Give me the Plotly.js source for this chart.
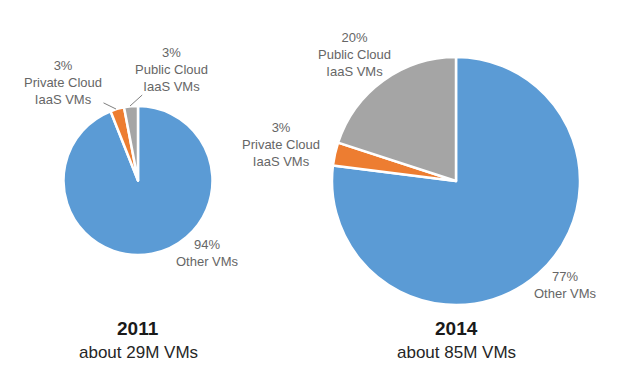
<!DOCTYPE html>
<html>
<head>
<meta charset="utf-8">
<script src="https://cdn.plot.ly/plotly-3.0.1.min.js"></script>
<style>html,body{margin:0;padding:0;background:#fff;}#chart{width:620px;height:383px;}</style>
</head>
<body>
<div id="chart"></div>
<script>
// ---- data ----
const categories = ["Other VMs", "Private Cloud IaaS VMs", "Public Cloud IaaS VMs"];
const labelText = ["Other VMs", "Private Cloud<br>IaaS VMs", "Public Cloud<br>IaaS VMs"];
const years = ["2011", "2014"];
const totals = ["about 29M VMs", "about 85M VMs"];
const shares2011 = [94, 3, 3];
const shares2014 = [77, 3, 20];
const colors = ["#5B9BD5", "#ED7D31", "#A5A5A5"];

// ---- layout helpers (pixel -> paper) ----
const W = 620, H = 383;
const px = x => x / W;
const py = y => 1 - y / H;

function pieTrace(values, x0, x1, y0, y1) {
  return {
    type: "pie", values: values, labels: categories, sort: false,
    direction: "clockwise", rotation: 0, textinfo: "none", hoverinfo: "skip",
    marker: {colors: colors, line: {color: "#ffffff", width: 2.5}},
    domain: {x: [px(x0), px(x1)], y: [py(y1), py(y0)]},
    showlegend: false
  };
}

const data = [
  pieTrace(shares2011, 63, 213, 106, 255),
  pieTrace(shares2014, 332, 580, 57, 305)
];

const lblFont = {family: "Liberation Sans, Arial, sans-serif", size: 13, color: "#666666"};
function lbl(text, x, y, tipX, tipY) {
  const a = {text: text, xref: "paper", yref: "paper", font: lblFont, align: "center",
    xanchor: "center", yanchor: "middle"};
  if (tipX !== undefined) {
    a.x = px(tipX); a.y = py(tipY); a.showarrow = true; a.arrowhead = 0;
    a.arrowwidth = 1; a.arrowcolor = "#7f7f7f"; a.ax = x - tipX; a.ay = y - tipY;
    a.standoff = 0;
  } else {
    a.x = px(x); a.y = py(y); a.showarrow = false;
  }
  return a;
}
function title(text, x, y, size, color) {
  return {text: text, x: px(x), y: py(y), xref: "paper", yref: "paper", showarrow: false,
    xanchor: "center", yanchor: "middle",
    font: {family: "Liberation Sans, Arial, sans-serif", size: size, color: color}};
}

const annotations = [
  lbl(shares2011[1] + "%<br>" + labelText[1], 63, 83, 116, 109),
  lbl(shares2011[2] + "%<br>" + labelText[2], 171, 69, 130, 106),
  lbl(shares2011[0] + "%<br>" + labelText[0], 207, 253),
  lbl(shares2014[1] + "%<br>" + labelText[1], 281, 144),
  lbl(shares2014[2] + "%<br>" + labelText[2], 354, 54),
  lbl(shares2014[0] + "%<br>" + labelText[0], 565, 285),
  title("<b>" + years[0] + "</b>", 138, 328, 19, "#1a1a1a"),
  title(totals[0], 138, 352, 17, "#262626"),
  title("<b>" + years[1] + "</b>", 456, 328, 19, "#1a1a1a"),
  title(totals[1], 456, 352, 17, "#262626")
];

const layout = {
  width: W, height: H, margin: {l: 0, r: 0, t: 0, b: 0},
  paper_bgcolor: "#ffffff", plot_bgcolor: "#ffffff",
  annotations: annotations, showlegend: false
};

Plotly.newPlot("chart", data, layout, {displayModeBar: false, staticPlot: true});
</script>
</body>
</html>
